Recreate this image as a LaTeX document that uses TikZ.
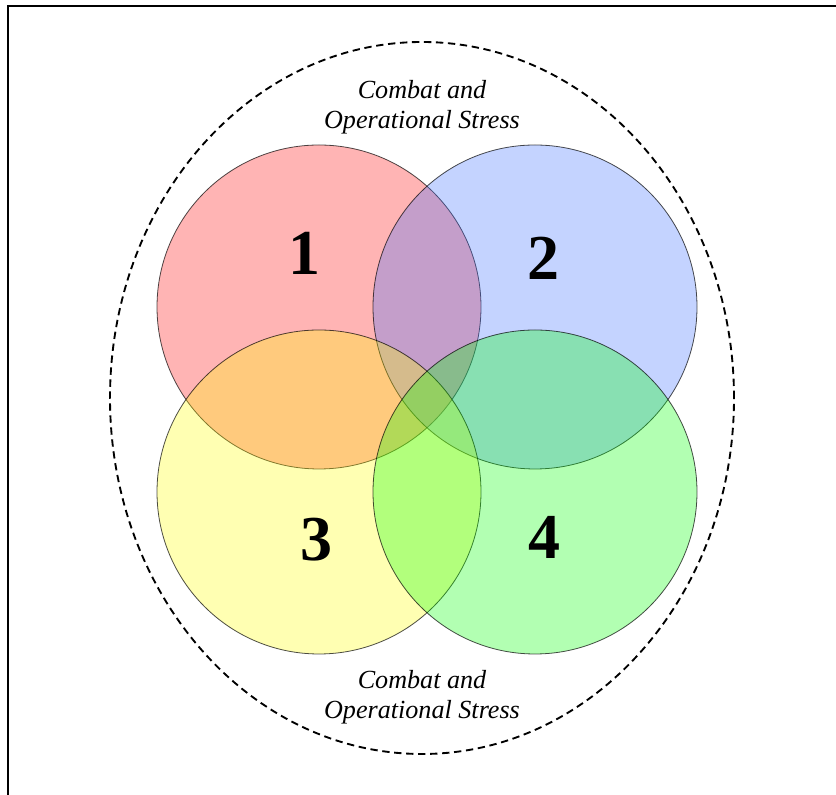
\documentclass[tikz,border=0pt]{standalone}
\usepackage{fontspec}
\setmainfont{Liberation Serif}
\definecolor{vennred}{RGB}{255,5,5}
\definecolor{vennblue}{RGB}{60,110,255}
\definecolor{vennyellow}{RGB}{255,255,0}
\definecolor{venngreen}{RGB}{0,255,0}
\tikzset{
  venn/.style={draw=black, draw opacity=0.7, line width=0.6pt, fill opacity=0.3},
  stresslabel/.style={align=center, font=\fontsize{19.6}{22.8}\selectfont\itshape},
  number/.style={font=\fontsize{48}{50}\selectfont\bfseries, inner sep=0pt}
}
\begin{document}
\begin{tikzpicture}[x=0.75pt, y=0.75pt]
\useasboundingbox (0,0) rectangle (836,795);
% frame
\draw[line width=2pt] (8,0) -- (8,789) -- (836,789);
% outer stress region
\draw[line width=1.4pt, dash pattern=on 5.5pt off 3.5pt] (422,397) ellipse (312 and 356);
% four circles
\draw[venn, fill=vennred] (319,488) circle (162);
\draw[venn, fill=vennblue] (535,488) circle (162);
\draw[venn, fill=vennyellow] (319,303) circle (162);
\draw[venn, fill=venngreen] (535,303) circle (162);
% numbers
\node[number] (n1) at (304.5,541.5) {1};
\node[number] (n2) at (543,536.5) {2};
\node[number] (n3) at (316,255.5) {3};
\node[number] (n4) at (544,257.5) {4};
% labels
\node[stresslabel] (top) at (422,687.5) {Combat and\\Operational Stress};
\node[stresslabel] (bottom) at (422,97.5) {Combat and\\Operational Stress};
\end{tikzpicture}
\end{document}
